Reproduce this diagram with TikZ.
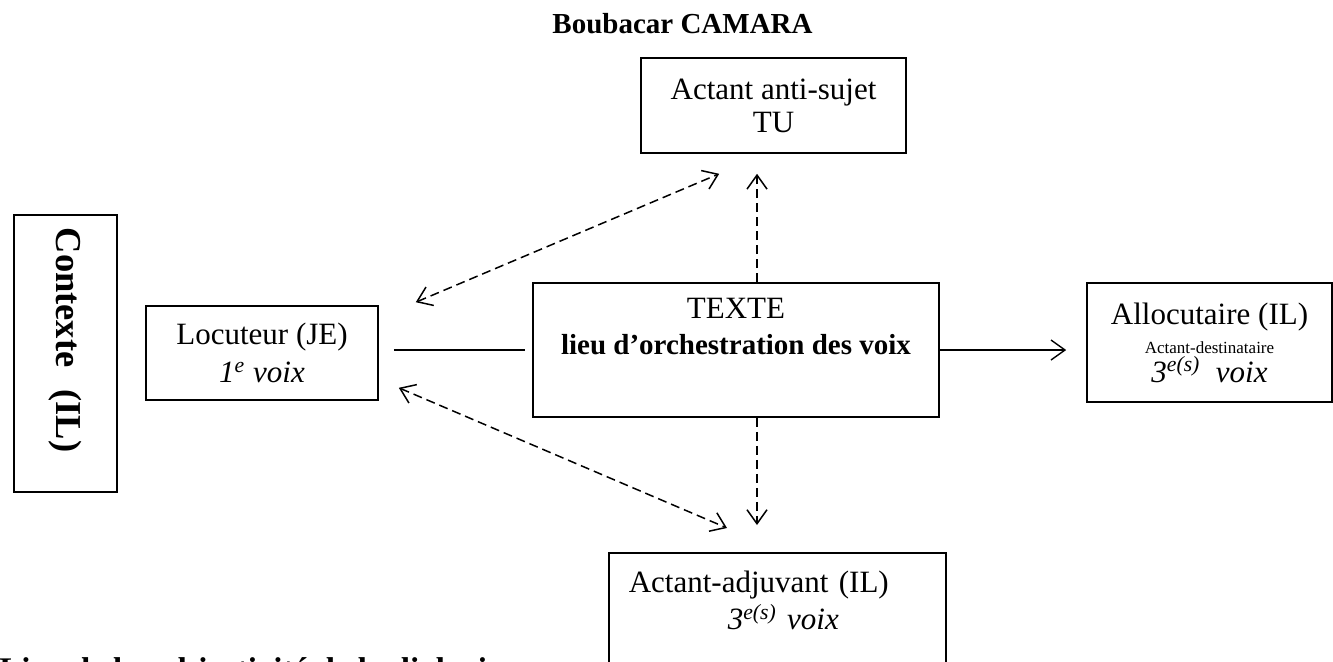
\documentclass[tikz,border=0pt]{standalone}
\usepackage{fontspec}
\setmainfont{Liberation Serif}
\usetikzlibrary{arrows.meta,positioning,calc}

\begin{document}
\begin{tikzpicture}[
  x=0.5pt, y=-0.5pt,
  voicebox/.style={
    draw=black, line width=0.8pt, inner sep=0pt, align=center,
    font=\fontsize{15.5}{19}\selectfont
  },
  plainline/.style={line width=0.7pt, draw=black},
  solidarrow/.style={-{Straight Barb[length=7pt,width=10pt]}, line width=0.7pt, draw=black},
  dashline/.style={dash pattern=on 4.5pt off 2.5pt, line width=0.75pt, draw=black},
  dasharrow/.style={dashline, {Straight Barb[length=7pt,width=10pt]}-{Straight Barb[length=7pt,width=10pt]}}
]
  \useasboundingbox (0,0) rectangle (1333,661);
  \clip (0,0) rectangle (1333,661);

  % Title
  \node[font=\fontsize{14.5}{17}\selectfont\bfseries] (auteur) at (682.5,24) {Boubacar CAMARA};

  % Context (rotated)
  \node[voicebox, rotate=-90, minimum width=138.5pt, minimum height=51.5pt,
        font=\fontsize{18.25}{22}\selectfont\bfseries] (contexte) at (65.5,353.5)
    {Contexte\hspace{0.6em}(IL)\hspace*{13.5pt}};

  % The voices
  \node[voicebox, minimum width=116pt, minimum height=47pt] (locuteur) at (262,353)
    {Locuteur (JE)\\\textit{1\textsuperscript{e} voix}};

  \node[voicebox, minimum width=203pt, minimum height=67pt,
        font=\fontsize{15.5}{18}\selectfont] (texte) at (736,350)
    {TEXTE\\{\fontsize{14.5}{18}\selectfont\bfseries lieu d'orchestration des voix}\\\strut};

  \node[voicebox, minimum width=132.5pt, minimum height=47.5pt,
        font=\fontsize{15.5}{16.5}\selectfont] (antisujet) at (773.5,105.5)
    {Actant anti-sujet\\TU};

  \node[voicebox, minimum width=122.5pt, minimum height=59.5pt,
        font=\fontsize{15.5}{14.5}\selectfont] (allocutaire) at (1209.5,342.5)
    {Allocutaire (IL)\\{\fontsize{8.5}{14.5}\selectfont Actant-destinataire}\\\textit{3\textsuperscript{e(s)}\ \ voix}};

  \node[voicebox, anchor=north west, align=left, inner xsep=10pt, inner ysep=9.25pt,
        text width=148.5pt, text depth=60pt, font=\fontsize{15.5}{18.5}\selectfont] (adjuvant) at (608,552)
    {Actant-adjuvant (IL)\\\hspace*{49.5pt}\textit{3\textsuperscript{e(s)} voix}};

  % Caption (cut at the bottom)
  \node[anchor=north west, inner sep=0pt, font=\fontsize{16.5}{20}\selectfont\bfseries] (legende) at (-1,657)
    {Lieu de la subjectivité de la dialogique};

  % Connectors
  \draw[plainline, shorten <=7.5pt, shorten >=3.5pt] (locuteur.east |- texte.west) -- (texte.west);
  \draw[solidarrow, shorten >=10pt] (texte.east) -- (texte.east -| allocutaire.west);

  \draw[dasharrow] ($(locuteur.north east)+(37,-3)$) -- ($(antisujet.south west)+(79,20)$);
  \draw[dasharrow] ($(locuteur.south east)+(20,-13)$) -- ($(adjuvant.north west)+(119,-24)$);

  \draw[dashline, -{Straight Barb[length=7pt,width=10pt]}] ($(texte.north)+(21,0)$) -- ($(antisujet.south -| texte.north)+(21,20)$);
  \draw[dashline, -{Straight Barb[length=7pt,width=10pt]}] ($(texte.south)+(21,0)$) -- ($(adjuvant.north -| texte.south)+(21,-27)$);
\end{tikzpicture}
\end{document}
